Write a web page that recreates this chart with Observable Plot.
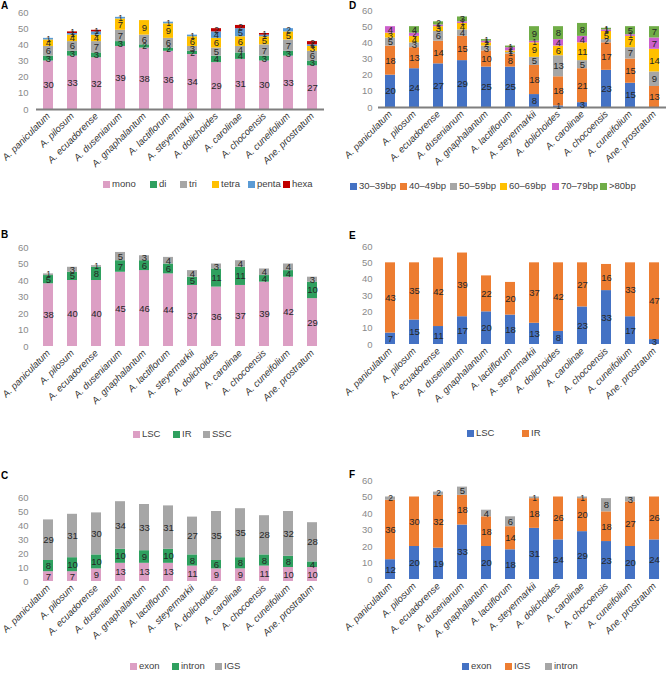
<!DOCTYPE html>
<html><head><meta charset="utf-8">
<script src="https://cdn.jsdelivr.net/npm/d3@7"></script>
<script src="https://cdn.jsdelivr.net/npm/@observablehq/plot@0.6"></script>
<style>
body{margin:0;background:#fff;font-family:"Liberation Sans",Arial,sans-serif;}
#fig{position:relative;width:666px;height:673px;overflow:hidden;background:#fff}
.panel{position:absolute}
.letter{position:absolute;font-weight:bold;font-size:10px;color:#000;line-height:1}
.legend{position:absolute;font-size:9.5px;color:#404040;white-space:nowrap;line-height:1}
.legend .it{position:absolute;top:0}
.legend .sw{display:inline-block;width:7px;height:7px;margin-right:2px;vertical-align:-0.5px}
</style></head><body><div id="fig"></div>
<script>
const species = ["A. paniculatum","A. pilosum","A. ecuadorense","A. dusenianum","A. gnaphalantum","A. lactiflorum","A. steyermarkii","A. dolichoides","A. carolinae","A. chocoensis","A. cuneifolium","Ane. prostratum"];

// Panel A: repeat unit types
const aKeys = ["mono","di","tri","tetra","penta","hexa"];
const aMono  = [30,33,32,39,38,36,34,29,31,30,33,27];
const aDi    = [3,3,3,3,2,2,2,4,4,3,3,3];
const aTri   = [6,6,7,7,6,6,3,5,4,7,7,6];
const aTetra = [4,4,4,7,9,9,6,6,6,5,5,3];
const aPenta = [1,1,2,1,0,1,1,4,5,1,2,1];
const aHexa  = [0,1,1,0,0,0,0,2,2,1,0,2];

// Panel B: region
const bKeys = ["LSC","IR","SSC"];
const bLSC = [38,40,40,45,46,44,37,36,37,39,42,29];
const bIR  = [5,5,8,7,6,6,5,11,11,4,4,10];
const bSSC = [1,3,1,5,3,4,4,3,4,4,4,3];

// Panel C: genomic location
const cKeys = ["exon","intron","IGS"];
const cExon   = [7,7,9,13,13,13,11,9,9,11,10,10];
const cIntron = [8,10,10,10,9,10,8,6,8,8,8,4];
const cIGS    = [29,31,30,34,33,31,27,35,35,28,32,28];

// Panel D: repeat length
const dKeys = ["30–39bp","40–49bp","50–59bp","60–69bp","70–79bp",">80bp"];
const d30 = [20,24,27,29,25,25,8,1,3,23,15,0];
const d40 = [18,13,14,15,10,8,18,18,21,17,15,13];
const d50 = [5,3,6,4,3,1,5,13,5,2,7,9];
const d60 = [3,4,3,4,2,1,9,6,11,5,7,14];
const d70 = [4,2,1,1,1,2,1,4,4,1,1,7];
const d80 = [0,4,2,3,1,1,9,8,8,1,5,7];

// Panel E: region
const eKeys = ["LSC","IR"];
const eLSC = [7,15,11,17,20,18,13,8,23,33,17,3];
const eIR  = [43,35,42,39,22,20,37,42,27,16,33,47];

// Panel F: genomic location
const fKeys = ["exon","IGS","intron"];
const fExon   = [12,20,19,33,20,18,31,24,29,23,20,24];
const fIGS    = [36,30,32,18,18,14,18,26,20,18,27,26];
const fIntron = [2,0,2,5,4,6,1,0,1,8,3,0];

const yTicks = [0,10,20,30,40,50,60];

const C = {pink:"#dc9fc4", green:"#2fa05f", gray:"#a6a6a6", yellow:"#ffc000", lblue:"#5b9bd5", red:"#c00000",
           blue:"#4472c4", orange:"#ed7d31", purple:"#cc5fcc", lgreen:"#70ad47"};

const fig = document.getElementById("fig");

function panel(o) {
  const data = [];
  species.forEach((s, i) => o.keys.forEach((k, j) => {
    const v = o.series[j][i];
    if (v > 0) data.push({sp: s, k, v});
  }));
  const mb = 62;
  const chart = Plot.plot({
    width: o.width, height: o.mt + o.ph + mb,
    marginLeft: o.ml, marginRight: o.mr, marginTop: o.mt, marginBottom: mb,
    style: {fontFamily: "Liberation Sans, Arial, sans-serif", fontSize: "9px", background: "transparent", overflow: "visible"},
    x: {domain: species, paddingInner: 0.58, paddingOuter: 0.29},
    y: {domain: [0, 60]},
    color: {domain: o.keys, range: o.colors},
    marks: [
      Plot.axisY({ticks: yTicks, tickSize: 0, tickPadding: o.tp, label: null, color: "#8a8a8a", fontSize: 9.5}),
      Plot.axisX({tickSize: 0, tickPadding: 5, tickRotate: -45, label: null, color: "#333", fontStyle: "italic", fontSize: 9.5}),
      Plot.barY(data, Plot.stackY({x: "sp", y: "v", fill: "k", order: o.keys})),
      o.line ? Plot.ruleY([0], {stroke: "#7f7f7f", strokeWidth: 2}) : null,
      Plot.text(data, Plot.stackY({x: "sp", y: "v", z: "k", order: o.keys, text: d => String(d.v), fill: "#262626", fontSize: d => d.v <= 2 ? 8.5 : 9.5}))
    ]
  });
  const div = document.createElement("div");
  div.className = "panel";
  div.style.left = o.left + "px";
  div.style.top = o.top + "px";
  div.appendChild(chart);
  fig.appendChild(div);

  const L = document.createElement("div");
  L.className = "letter";
  L.textContent = o.letter;
  L.style.left = o.lx + "px"; L.style.top = o.ly + "px";
  fig.appendChild(L);

  const lg = document.createElement("div");
  lg.className = "legend";
  lg.style.left = "0px"; lg.style.top = o.legY + "px";
  o.keys.forEach((k, j) => {
    const it = document.createElement("span");
    it.className = "it";
    it.style.left = o.legX[j] + "px";
    it.innerHTML = `<span class="sw" style="background:${o.colors[j]}"></span>${k}`;
    lg.appendChild(it);
  });
  fig.appendChild(lg);
}

panel({letter:"A", lx:1, ly:1, left:0, top:0, width:333, ml:36, mr:9, mt:12, ph:97, tp:8, line:true,
  keys:aKeys, colors:[C.pink,C.green,C.gray,C.yellow,C.lblue,C.red],
  series:[aMono,aDi,aTri,aTetra,aPenta,aHexa], legY:179, legX:[103,150,180,212,248,283]});
panel({letter:"B", lx:1, ly:230, left:0, top:235, width:333, ml:36, mr:9, mt:12, ph:99, tp:8, line:false,
  keys:bKeys, colors:[C.pink,C.green,C.gray],
  series:[bLSC,bIR,bSSC], legY:429, legX:[133,173,203]});
panel({letter:"C", lx:1, ly:471, left:0, top:485, width:333, ml:36, mr:9, mt:12, ph:84, tp:8, line:false,
  keys:cKeys, colors:[C.pink,C.green,C.gray],
  series:[cExon,cIntron,cIGS], legY:661, legX:[130,172,215]});
panel({letter:"D", lx:349, ly:1, left:333, top:0, width:333, ml:45, mr:0, mt:10, ph:97, tp:6, line:true,
  keys:dKeys, colors:[C.blue,C.orange,C.gray,C.yellow,C.purple,C.lgreen],
  series:[d30,d40,d50,d60,d70,d80], legY:181, legX:[350,400,450,500,552,600]});
panel({letter:"E", lx:349, ly:231, left:333, top:234, width:333, ml:45, mr:0, mt:12, ph:98, tp:6, line:false,
  keys:eKeys, colors:[C.blue,C.orange],
  series:[eLSC,eIR], legY:428, legX:[467,522]});
panel({letter:"F", lx:349, ly:470, left:333, top:468, width:333, ml:45, mr:0, mt:12, ph:99, tp:6, line:false,
  keys:fKeys, colors:[C.blue,C.orange,C.gray],
  series:[fExon,fIGS,fIntron], legY:661, legX:[462,505,545]});
</script>
</body></html>
